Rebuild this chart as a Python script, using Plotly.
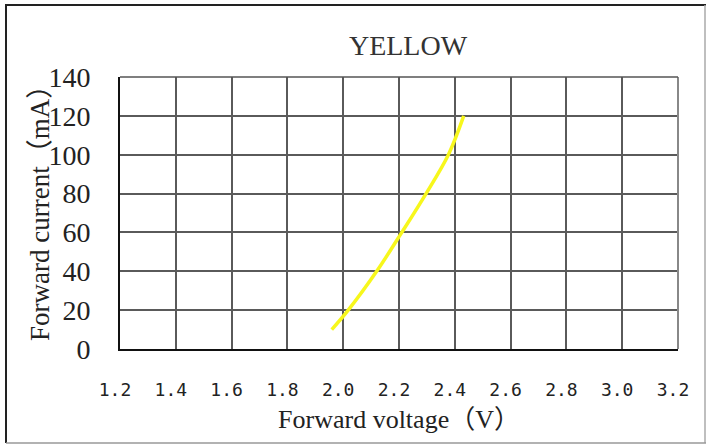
import plotly.graph_objects as go

voltage = [1.959, 2.018, 2.120, 2.210, 2.297, 2.377, 2.432]
current = [10, 20, 40, 60, 80, 100, 120]
x_ticks = [1.2, 1.4, 1.6, 1.8, 2.0, 2.2, 2.4, 2.6, 2.8, 3.0, 3.2]
x_tick_labels = ["1.2", "1.4", "1.6", "1.8", "2.0", "2.2", "2.4", "2.6", "2.8", "3.0", "3.2"]
y_ticks = [0, 20, 40, 60, 80, 100, 120, 140]

W, H = 708, 446
L, R, T, B = 120, 30, 77, 97
pw, ph = W - L - R, H - T - B

def px(x):
    return (x - L) / pw

def py(y):
    return (H - B - y) / ph

fig = go.Figure()
fig.add_trace(go.Scatter(
    x=voltage, y=current, mode="lines",
    line=dict(color="#F7F71C", width=3.5, shape="spline", smoothing=1.0),
    showlegend=False, hoverinfo="skip",
))

serif = "Liberation Serif, Noto Sans CJK SC, serif"

fig.update_layout(
    width=W, height=H,
    margin=dict(l=L, r=R, t=T, b=B),
    paper_bgcolor="white", plot_bgcolor="white",
    title=dict(text="YELLOW", xref="container", x=408 / W, xanchor="center",
               yref="container", y=1 - 45 / H, yanchor="middle",
               font=dict(family=serif, size=28, color="#333")),
    xaxis=dict(
        range=[1.2, 3.2], tickvals=x_ticks, ticktext=x_tick_labels,
        showgrid=True, gridcolor="#5a5a5a", gridwidth=1.5,
        showline=True, linecolor="#111", linewidth=2, mirror=False,
        zeroline=False, ticks="", ticklabelstandoff=23, ticklabelshift=-5,
        tickfont=dict(family="DejaVu Sans Mono, monospace", size=18, color="#222"),
        title=dict(text="Forward voltage（V）", standoff=11,
                   font=dict(family=serif, size=26, color="#222")),
    ),
    yaxis=dict(
        range=[0, 140], tickvals=y_ticks,
        showgrid=True, gridcolor="#5a5a5a", gridwidth=1.5,
        showline=True, linecolor="#111", linewidth=2, mirror=False,
        zeroline=False, ticks="", ticklabelstandoff=22,
        tickfont=dict(family=serif, size=28, color="#222"),
    ),
    annotations=[
        dict(text="Forward current（mA）", xref="paper", yref="paper",
             x=px(40), y=py(207), xanchor="center", yanchor="middle",
             textangle=-90, showarrow=False,
             font=dict(family=serif, size=27, color="#222")),
    ],
    shapes=[
        # right and top plot edges
        dict(type="line", xref="paper", yref="paper", x0=1, x1=1, y0=0, y1=1,
             line=dict(color="#888", width=2)),
        dict(type="line", xref="paper", yref="paper", x0=0, x1=1, y0=1, y1=1,
             line=dict(color="#555", width=1.5)),
        # outer frame
        dict(type="line", xref="paper", yref="paper", x0=px(5), x1=px(706), y0=py(5), y1=py(5),
             line=dict(color="#222", width=2)),
        dict(type="line", xref="paper", yref="paper", x0=px(6), x1=px(6), y0=py(5), y1=py(443),
             line=dict(color="#222", width=2)),
        dict(type="line", xref="paper", yref="paper", x0=px(705), x1=px(705), y0=py(5), y1=py(443),
             line=dict(color="#aaa", width=1.5)),
        dict(type="line", xref="paper", yref="paper", x0=px(6), x1=px(706), y0=py(443), y1=py(443),
             line=dict(color="#999", width=1.5)),
    ],
)

fig.write_html("out.html", config={"displayModeBar": False},
               post_script="document.body.style.margin='0';document.body.style.overflow='hidden';")
